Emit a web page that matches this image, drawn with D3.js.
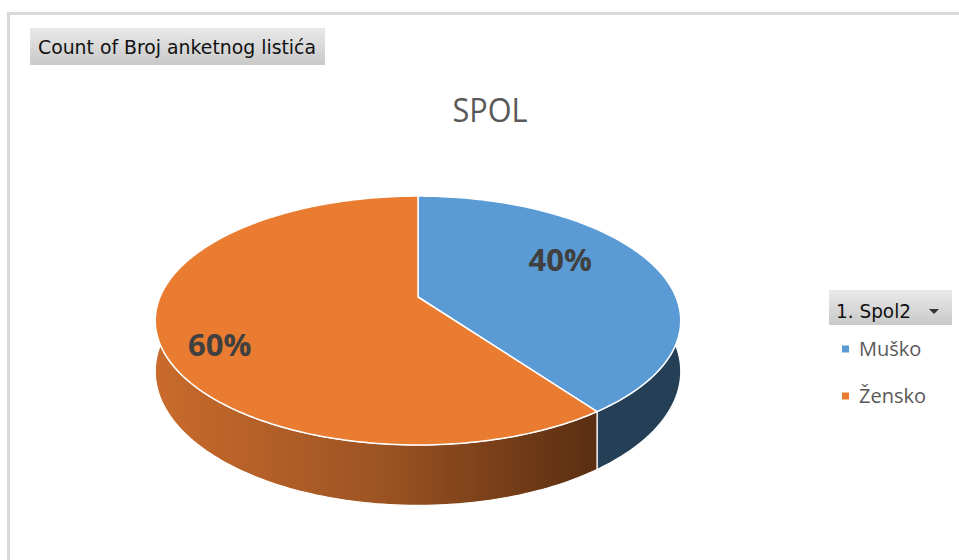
<!DOCTYPE html>
<html>
<head>
<meta charset="utf-8">
<script src="https://cdn.jsdelivr.net/npm/d3@7"></script>
<style>
  html, body { margin: 0; padding: 0; background: #fff; }
  svg { display: block; }
</style>
</head>
<body>
<svg id="chart" width="959" height="560"></svg>
<script>
// data
const categories = ['Muško', 'Žensko'];
const values = [40, 60];
const chartTitle = 'SPOL';
const fieldButton = 'Count of Broj anketnog listića';
const legendButton = '1. Spol2';

const topColors = ['#5b9bd5', '#e97c30'];

const W = 959, H = 560;
const svg = d3.select('#chart');

// perspective setup for the 3D pie
const cx = 418, cy = 297;
const A = 258, B = 120;      // horizontal / depth radii
const k = 0.189;             // perspective strength
const depth = 49;            // thickness of the pie

function proj(theta, r, drop) {
  const u = r * Math.sin(theta);
  const v = -r * Math.cos(theta);
  const w = 1 - k * v;
  return [cx + A * u / w, cy + B * v / w + (drop ? depth / w : 0)];
}

function arcPoints(a0, a1, r, drop) {
  const n = Math.max(8, Math.ceil(Math.abs(a1 - a0) / 0.02));
  const pts = [];
  for (let i = 0; i <= n; i++) pts.push(proj(a0 + (a1 - a0) * i / n, r, drop));
  return pts;
}

const line = d3.line();

// chart frame
svg.append('line').attr('x1', 8.5).attr('x2', W).attr('y1', 13.5).attr('y2', 13.5)
  .attr('stroke', '#d9d9d9').attr('stroke-width', 3);
svg.append('line').attr('x1', 8.5).attr('x2', 8.5).attr('y1', 12).attr('y2', H)
  .attr('stroke', '#d9d9d9').attr('stroke-width', 3);

const defs = svg.append('defs');
const btnGrad = defs.append('linearGradient').attr('id', 'btn')
  .attr('x1', 0).attr('y1', 0).attr('x2', 0).attr('y2', 1);
btnGrad.append('stop').attr('offset', 0).attr('stop-color', '#e9e9e9');
btnGrad.append('stop').attr('offset', 1).attr('stop-color', '#c9c9c9');

const sideGradO = defs.append('linearGradient').attr('id', 'sideO')
  .attr('gradientUnits', 'userSpaceOnUse')
  .attr('x1', 155).attr('x2', 592).attr('y1', 0).attr('y2', 0);
sideGradO.append('stop').attr('offset', 0).attr('stop-color', '#c96b2c');
sideGradO.append('stop').attr('offset', 0.5).attr('stop-color', '#9e5423');
sideGradO.append('stop').attr('offset', 1).attr('stop-color', '#5c2f12');

const sideFills = ['#243f56', 'url(#sideO)'];

// field button
const fb = svg.append('g');
fb.append('rect').attr('x', 30).attr('y', 28).attr('width', 295).attr('height', 37)
  .attr('fill', 'url(#btn)');
fb.append('text').attr('x', 38).attr('y', 54)
  .attr('font-family', 'DejaVu Sans').attr('font-size', 19.5).attr('fill', '#111')
  .attr('textLength', 278).attr('lengthAdjust', 'spacingAndGlyphs')
  .text(fieldButton);

// title
svg.append('text').attr('x', 490).attr('y', 122).attr('text-anchor', 'middle')
  .attr('font-family', 'Open Sans').attr('font-size', 32).attr('fill', '#595959')
  .attr('textLength', 75).attr('lengthAdjust', 'spacingAndGlyphs')
  .text(chartTitle);

// pie
const pie = d3.pie().sort(null).value(d => d)(values);

const gPie = svg.append('g');

// side walls first
pie.forEach((d, i) => {
  const top = arcPoints(d.startAngle, d.endAngle, 1, false);
  const bot = arcPoints(d.startAngle, d.endAngle, 1, true).reverse();
  gPie.append('path')
    .attr('d', line(top.concat(bot)) + 'Z')
    .attr('fill', sideFills[i])
    .attr('stroke', '#fff').attr('stroke-width', 1.2).attr('stroke-linejoin', 'round');
});

// top faces
pie.forEach((d, i) => {
  const pts = [proj(0, 0, false)].concat(arcPoints(d.startAngle, d.endAngle, 1, false));
  gPie.append('path')
    .attr('d', line(pts) + 'Z')
    .attr('fill', topColors[i])
    .attr('stroke', '#fff').attr('stroke-width', 1.5).attr('stroke-linejoin', 'round');
});

// data labels
const total = d3.sum(values);
pie.forEach((d, i) => {
  const mid = (d.startAngle + d.endAngle) / 2;
  const lx = cx - 28 + 179 * Math.sin(mid);
  const ly = cy + 5.5 - 137 * Math.cos(mid);
  svg.append('text').attr('x', lx).attr('y', ly + 11)
    .attr('text-anchor', 'middle')
    .attr('font-family', 'Open Sans').attr('font-weight', 'bold')
    .attr('font-size', 31).attr('fill', '#404040')
    .text(d3.format('.0%')(d.value / total));
});

// legend
const lg = svg.append('g');
lg.append('rect').attr('x', 829).attr('y', 290).attr('width', 123).attr('height', 35)
  .attr('fill', 'url(#btn)');
lg.append('text').attr('x', 836).attr('y', 318)
  .attr('font-family', 'DejaVu Sans').attr('font-size', 19.5).attr('fill', '#111')
  .attr('textLength', 75).attr('lengthAdjust', 'spacingAndGlyphs')
  .text(legendButton);
lg.append('path').attr('d', 'M929,309 L939,309 L934,314 Z').attr('fill', '#333');

categories.forEach((c, i) => {
  const y = 349 + i * 47;
  lg.append('rect').attr('x', 842).attr('y', y - 3.5).attr('width', 7).attr('height', 7)
    .attr('fill', topColors[i]);
  lg.append('text').attr('x', 859).attr('y', y + 7)
    .attr('font-family', 'Open Sans').attr('font-size', 20).attr('fill', '#595959')
    .text(c);
});
</script>
</body>
</html>
